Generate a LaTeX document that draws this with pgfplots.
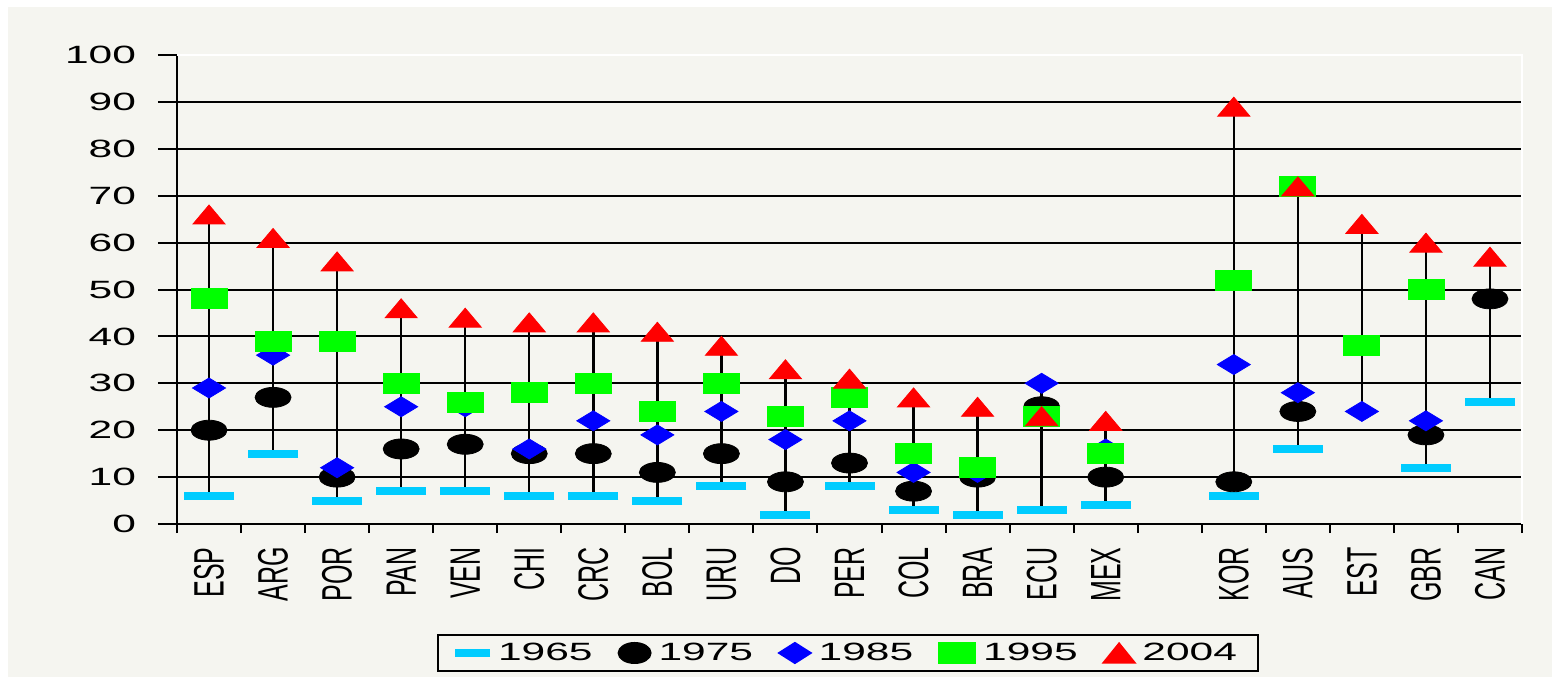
\documentclass[border=0pt]{standalone}
\usepackage{fontspec}
\setmainfont{Liberation Sans}[FakeStretch=1.7]
\newfontfamily\labfont{Liberation Sans}
\usepackage{pgfplots}
\pgfplotsset{compat=1.18}
\definecolor{bg}{RGB}{245,245,240}
\definecolor{dashc}{RGB}{0,204,255}
\definecolor{dgreen}{RGB}{0,255,0}
\newcommand{\lab}[1]{\scalebox{1}[1.7]{#1}}
\begin{document}
\begin{tikzpicture}
\fill[white] (-88.5pt,-76.5pt) rectangle (687.5pt,262pt);
\fill[bg] (-84.5pt,-76.5pt) rectangle (687.5pt,258.5pt);
\begin{axis}[
 scale only axis, width=672.5pt, height=234.5pt,
 xmin=-0.5, xmax=20.5, ymin=0, ymax=100,
 axis lines=left, axis line style={-, line width=1pt, black},
 clip=false,
 xtick={-0.5,0.5,...,20.5}, xticklabels={\empty},
 ytick={0,10,...,100},
 tick align=outside,
 major tick length=9.5pt,
 xtick style={/pgfplots/major tick length=4.5pt, line width=1pt, black},
 ytick style={line width=1pt, black},
 ymajorgrids, grid style={line width=1pt, black},
 extra x ticks={0,1,2,3,4,5,6,7,8,9,10,11,12,13,14,16,17,18,19,20},
 extra x tick labels={\lab{ESP},\lab{ARG},\lab{POR},\lab{PAN},\lab{VEN},\lab{CHI},\lab{CRC},\lab{BOL},\lab{URU},\lab{DO},\lab{PER},\lab{COL},\lab{BRA},\lab{ECU},\lab{MEX},\lab{KOR},\lab{AUS},\lab{EST},\lab{GBR},\lab{CAN}},
 extra x tick style={/pgfplots/major tick length=0pt, tick style={draw=none},
   tick label style={font=\labfont\fontsize{12.5}{15}\selectfont, rotate=90, anchor=east, inner xsep=11.5pt}},
 yticklabel style={font=\fontsize{12.5}{15}\selectfont, anchor=east, xshift=-7.5pt},
 /pgf/number format/assume math mode=true,
 legend columns=5,
 legend style={at={(0.4989,-0.275)}, anchor=center, draw=black, line width=1pt, fill=bg, inner xsep=8.5pt,
   font=\fontsize{12.5}{15}\selectfont,
   /tikz/every odd column/.append style={column sep=2pt},
   /tikz/every even column/.append style={column sep=11pt}},
]
% high-low lines
\addplot[black, line width=1.2pt, forget plot, unbounded coords=jump, mark=none] coordinates {
(0,6) (0,66) (0,nan)
(1,15) (1,61) (1,nan)
(2,5) (2,56) (2,nan)
(3,7) (3,46) (3,nan)
(4,7) (4,44) (4,nan)
(5,6) (5,43) (5,nan)
(6,6) (6,43) (6,nan)
(7,5) (7,41) (7,nan)
(8,8) (8,38) (8,nan)
(9,2) (9,33) (9,nan)
(10,8) (10,31) (10,nan)
(11,3) (11,27) (11,nan)
(12,2) (12,25) (12,nan)
(13,3) (13,30) (13,nan)
(14,4) (14,22) (14,nan)
(16,6) (16,89) (16,nan)
(17,16) (17,72) (17,nan)
(18,24) (18,64) (18,nan)
(19,12) (19,60) (19,nan)
(20,26) (20,57)
};
% 1965
\addplot[only marks, forget plot, dashc, mark=-, mark size=12.5pt, mark options={line width=4pt}] coordinates {
(0,6) (1,15) (2,5) (3,7) (4,7) (5,6) (6,6) (7,5) (8,8) (9,2) (10,8) (11,3) (12,2) (13,3) (14,4)
(16,6) (17,16) (19,12) (20,26)};
% 1975
\addplot[only marks, forget plot, black, mark=*, mark size=5pt, mark options={xscale=1.8}] coordinates {
(0,20) (1,27) (2,10) (3,16) (4,17) (5,15) (6,15) (7,11) (8,15) (9,9) (10,13) (11,7) (12,10) (13,25) (14,10)
(16,9) (17,24) (19,19) (20,48)};
% 1985
\addplot[only marks, forget plot, blue, mark=diamond*, mark size=5pt, mark options={xscale=2.2}] coordinates {
(0,29) (1,36) (2,12) (3,25) (4,25) (5,16) (6,22) (7,19) (8,24) (9,18) (10,22) (11,11) (12,11) (13,30) (14,16)
(16,34) (17,28) (18,24) (19,22)};
% 1995
\addplot[only marks, forget plot, dgreen, mark=square*, mark size=5pt, mark options={xscale=1.8}] coordinates {
(0,48) (1,39) (2,39) (3,30) (4,26) (5,28) (6,30) (7,24) (8,30) (9,23) (10,27) (11,15) (12,12) (13,23) (14,15)
(16,52) (17,72) (18,38) (19,50)};
% 2004
\addplot[only marks, forget plot, red, mark=triangle*, mark size=6.33pt, mark options={xscale=1.46, yshift=-1.6pt}] coordinates {
(0,66) (1,61) (2,56) (3,46) (4,44) (5,43) (6,43) (7,41) (8,38) (9,33) (10,31) (11,27) (12,25) (13,23) (14,22)
(16,89) (17,72) (18,64) (19,60) (20,57)};
\draw[white, line width=1pt] (rel axis cs:0,1) -- (rel axis cs:1,1) -- (rel axis cs:1,0);
\addlegendimage{only marks, dashc, mark=-, mark size=8.75pt, mark options={line width=4pt}}
\addlegendentry{1965}
\addlegendimage{only marks, black, mark=*, mark size=5pt, mark options={xscale=1.6}}
\addlegendentry{1975}
\addlegendimage{only marks, blue, mark=diamond*, mark size=5pt, mark options={xscale=2.1}}
\addlegendentry{1985}
\addlegendimage{only marks, dgreen, mark=square*, mark size=5pt, mark options={xscale=1.8}}
\addlegendentry{1995}
\addlegendimage{only marks, red, mark=triangle*, mark size=6.33pt, mark options={xscale=1.4, yshift=-1.6pt}}
\addlegendentry{2004}
\end{axis}
\pgfresetboundingbox
\path (-88.5pt,-76.5pt) rectangle (687.5pt,262pt);
\end{tikzpicture}
\end{document}
